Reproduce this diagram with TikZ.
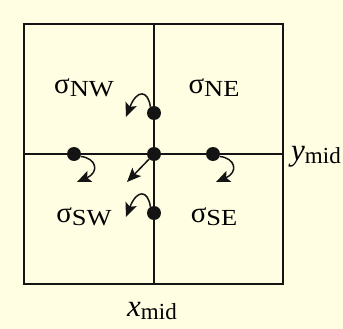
\documentclass[tikz,border=0pt]{standalone}
\usepackage{fontspec}
\setmainfont{Liberation Serif}
\usetikzlibrary{arrows.meta}
\definecolor{paper}{RGB}{255,253,226}
\definecolor{ink}{RGB}{20,20,20}
\newcommand{\quadlab}[1]{{\fontsize{29}{29}\selectfont σ}\raisebox{-0.3em}{\scalebox{1.15}[1]{\fontsize{23}{23}\selectfont #1}}}
\newcommand{\midlab}[1]{{\fontsize{31}{31}\selectfont\itshape #1}\raisebox{-0.3em}{\fontsize{23}{23}\selectfont mid}}
\tikzset{
  dot/.style={circle, fill=ink, inner sep=0pt, minimum size=14pt},
  swirl/.style={draw=ink, line width=1.5pt, -{Stealth[length=14pt,width=12pt,inset=3pt]}}}

\begin{document}
\begin{tikzpicture}[x=1pt,y=-1pt]
	\fill[paper] (0,0) rectangle (343,329);
	\useasboundingbox (0,0) rectangle (343,329);
	\draw[ink, line width=1.3pt] (24,24) rectangle (283,284);
	\draw[ink, line width=1.3pt] (154,24) -- (154,284);
	\draw[ink, line width=1.3pt] (24,154) -- (283,154);
	\node[dot] (c) at (154,154) {};
	\node[dot] (w) at (74,154) {};
	\node[dot] (e) at (213,154) {};
	\node[dot] (n) at (154,113) {};
	\node[dot] (s) at (154,213) {};
	\coordinate (nt) at (126,117);
	\coordinate (st) at (126,217);
	\coordinate (wt) at (77,182);
	\coordinate (et) at (216,182);
	\coordinate (ct) at (127,182);
	\draw[swirl] (n.120) .. controls (148,90) and (137,89) .. (nt);
	\draw[swirl] (s.120) .. controls (148,190) and (137,189) .. (st);
	\draw[swirl] (w.-20) .. controls (96,158) and (100,172) .. (wt);
	\draw[swirl] (e.-20) .. controls (235,158) and (239,172) .. (et);
	\draw[swirl] (c) -- (ct);
	\node (nw) at (84,88) {\quadlab{NW}};
	\node (ne) at (214,88) {\quadlab{NE}};
	\node (sw) at (84,217) {\quadlab{SW}};
	\node (se) at (214,217) {\quadlab{SE}};
	\node (ymid) at (316,157) {\midlab{y}};
	\node (xmid) at (152,311) {\midlab{x}};
\end{tikzpicture}
\end{document}
